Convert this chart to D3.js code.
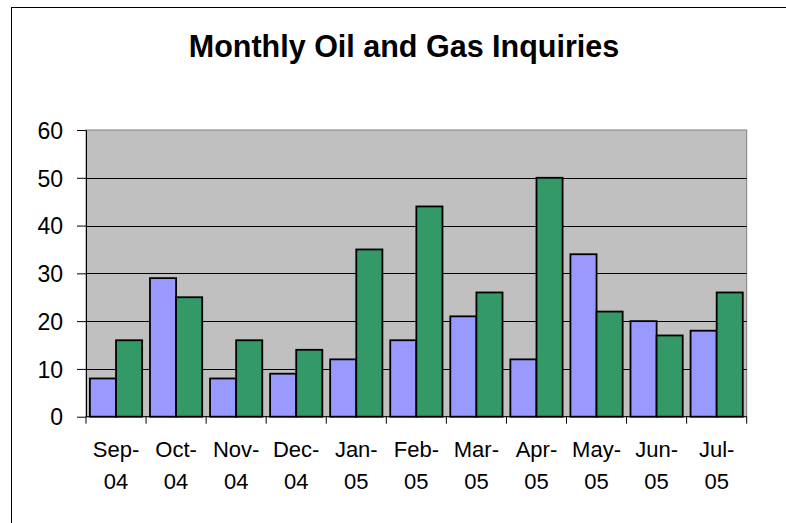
<!DOCTYPE html>
<html>
<head>
<meta charset="utf-8">
<script src="https://cdn.jsdelivr.net/npm/d3@7"></script>
<style>
  body { margin: 0; background: #fff; }
  svg text { font-family: "Liberation Sans", Arial, sans-serif; fill: #000; }
</style>
</head>
<body>
<script>
(function(){

    var months = ["Sep-04", "Oct-04", "Nov-04", "Dec-04", "Jan-05", "Feb-05", "Mar-05", "Apr-05", "May-05", "Jun-05", "Jul-05"];
    var seriesNames = ["Oil", "Gas"];
    var oilValues = [8, 29, 8, 9, 12, 16, 21, 12, 34, 20, 18];
    var gasValues = [16, 25, 16, 14, 35, 44, 26, 50, 22, 17, 26];
    var yTicks = [0, 10, 20, 30, 40, 50, 60];
    var seriesColors = ["#9999FF", "#339966"];

    var width = 786, height = 523;
    var plot = { left: 86, top: 130, right: 746.7, bottom: 416.7 };

    var svg = d3.select("body").append("svg")
        .attr("width", width)
        .attr("height", height);

    // chart area border (runs off the right and bottom edges)
    svg.append("rect")
        .attr("x", 11.5).attr("y", 7.5)
        .attr("width", 800).attr("height", 540)
        .attr("fill", "#fff")
        .attr("stroke", "#000")
        .attr("stroke-width", 1);

    svg.append("text")
        .attr("x", 404).attr("y", 57)
        .attr("text-anchor", "middle")
        .style("font-size", "30.5px")
        .style("font-weight", "bold")
        .text("Monthly Oil and Gas Inquiries");

    var x0 = d3.scaleBand()
        .domain(months)
        .range([plot.left, plot.right])
        .paddingInner(0)
        .paddingOuter(0);

    var x1 = d3.scaleBand()
        .domain(seriesNames)
        .range([0, x0.bandwidth()])
        .paddingInner(0)
        .paddingOuter(0.15);

    var y = d3.scaleLinear()
        .domain([0, 60])
        .range([plot.bottom, plot.top]);

    svg.append("rect")
        .attr("x", plot.left).attr("y", plot.top)
        .attr("width", plot.right - plot.left)
        .attr("height", plot.bottom - plot.top)
        .attr("fill", "#C0C0C0")
        .attr("stroke", "#808080")
        .attr("stroke-width", 1);

    // gridlines
    svg.append("g").selectAll("line")
        .data(yTicks.filter(function(d){ return d > 0 && d < 60; }))
        .enter().append("line")
        .attr("x1", plot.left).attr("x2", plot.right)
        .attr("y1", function(d){ return Math.round(y(d)) + 0.5; })
        .attr("y2", function(d){ return Math.round(y(d)) + 0.5; })
        .attr("stroke", "#000")
        .attr("stroke-width", 1);

    // bars
    var rows = months.map(function(m, i){
        return { month: m, values: [
            { name: seriesNames[0], value: oilValues[i], color: seriesColors[0] },
            { name: seriesNames[1], value: gasValues[i], color: seriesColors[1] }
        ] };
    });

    var groups = svg.append("g").selectAll("g")
        .data(rows)
        .enter().append("g")
        .attr("transform", function(d){ return "translate(" + x0(d.month) + ",0)"; });

    groups.selectAll("rect")
        .data(function(d){ return d.values; })
        .enter().append("rect")
        .attr("x", function(d){ return x1(d.name); })
        .attr("y", function(d){ return y(d.value); })
        .attr("width", x1.bandwidth())
        .attr("height", function(d){ return y(0) - y(d.value); })
        .attr("fill", function(d){ return d.color; })
        .attr("stroke", "#000")
        .attr("stroke-width", 1.8);

    // y axis
    var yAxis = svg.append("g")
        .attr("transform", "translate(" + plot.left + ",0)")
        .call(d3.axisLeft(y).tickValues(yTicks).tickSize(9).tickSizeOuter(0).tickPadding(14));
    yAxis.select(".domain").attr("stroke", "#000");
    yAxis.selectAll(".tick line").attr("stroke", "#000");
    yAxis.selectAll(".tick text")
        .style("font-size", "23px")
        .attr("dy", "0.36em");

    // x axis line and boundary ticks
    svg.append("line")
        .attr("x1", plot.left).attr("x2", plot.right)
        .attr("y1", plot.bottom).attr("y2", plot.bottom)
        .attr("stroke", "#000");

    var bounds = months.map(function(m){ return x0(m); }).concat([plot.right]);
    svg.append("g").selectAll("line")
        .data(bounds)
        .enter().append("line")
        .attr("x1", function(d){ return d; }).attr("x2", function(d){ return d; })
        .attr("y1", plot.bottom).attr("y2", plot.bottom + 7)
        .attr("stroke", "#000");

    // category labels in two lines
    var labels = svg.append("g").selectAll("text")
        .data(months)
        .enter().append("text")
        .attr("text-anchor", "middle")
        .style("font-size", "22px");

    labels.append("tspan")
        .attr("x", function(d){ return x0(d) + x0.bandwidth() / 2; })
        .attr("y", 456.7)
        .text(function(d){ return d.split("-")[0] + "-"; });

    labels.append("tspan")
        .attr("x", function(d){ return x0(d) + x0.bandwidth() / 2; })
        .attr("y", 489.3)
        .text(function(d){ return d.split("-")[1]; });

})();
</script>
</body>
</html>
